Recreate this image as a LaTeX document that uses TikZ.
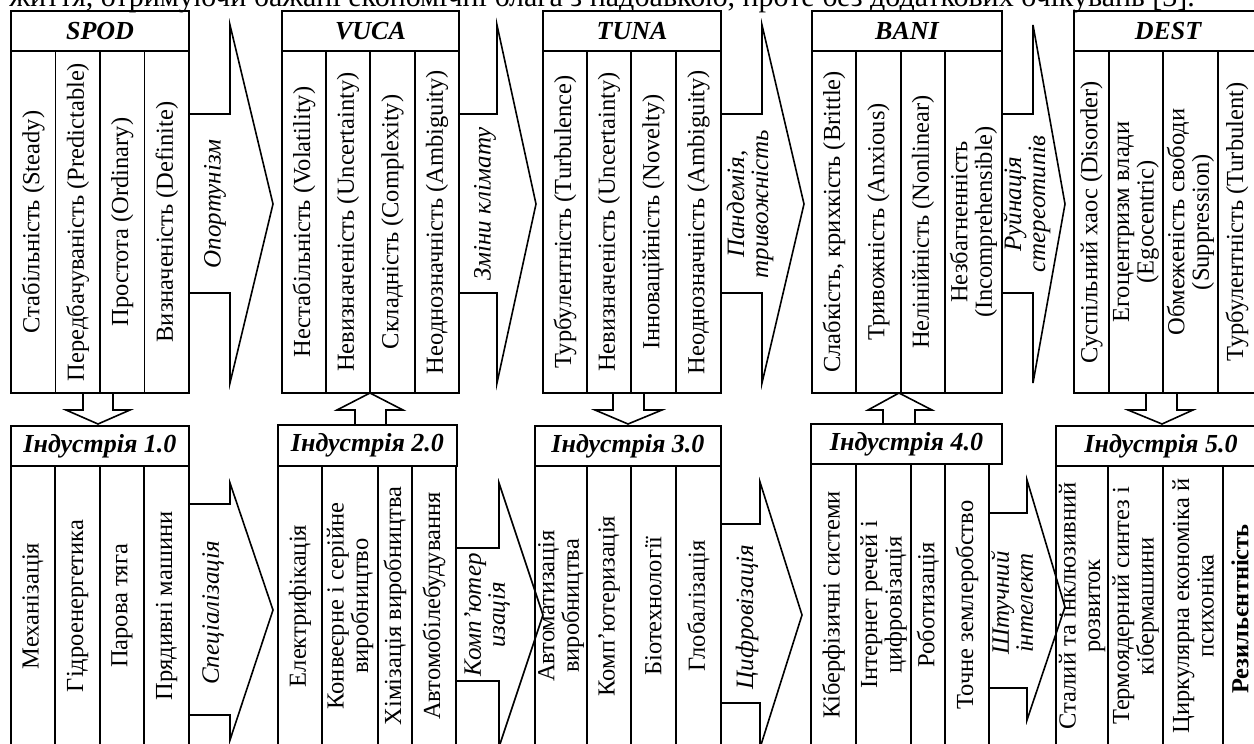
\documentclass[tikz,border=0pt]{standalone}
\usepackage{fontspec}
\setmainfont{Liberation Serif}
\newcommand{\cellbox}[6]{%
  \draw[frame] (#1,#3) rectangle (#2,#4);
  \node[coltxt] (#5) at ({(#1+#2)/2},{(#3+#4)/2}) {#6};}
\newcommand{\hdrbox}[6]{%
  \draw[frame] (#1,#3) rectangle (#2,#4);
  \node[hdr] (#5) at ({(#1+#2)/2},{(#3+#4)/2}) {#6};}
\begin{document}
\begin{tikzpicture}[x=1pt,y=-1pt,
  frame/.style={line width=1.6pt, line join=miter},
  coltxt/.style={rotate=90, align=center, font=\fontsize{24.5}{24.5}\selectfont, inner sep=0pt},
  arrtxt/.style={rotate=90, align=center, font=\fontsize{25}{24}\selectfont\itshape, inner sep=0pt},
  hdr/.style={font=\fontsize{26}{26}\selectfont\bfseries\itshape, inner sep=0pt},
  blockarrow/.style={line width=1.6pt, line join=miter}]
\useasboundingbox (0,0) rectangle (1254,744);

% cut-off sentence above the figure
\node[anchor=base east, font=\fontsize{30}{30}\selectfont, inner sep=0pt] (sentence) at (1195,6)
  {життя, отримуючи бажані економічні блага з надбавкою, проте без додаткових очікувань [3].};

% ---------- upper row ----------
\hdrbox{11}{189}{11}{51}{spod}{SPOD}
\cellbox{11}{55.5}{51}{393}{s1}{Стабільність (Steady)}
\cellbox{55.5}{100}{51}{393}{s2}{Передбачуваність (Predictable)}
\cellbox{100}{144.5}{51}{393}{s3}{Простота (Ordinary)}
\cellbox{144.5}{189}{51}{393}{s4}{Визначеність (Definite)}

\hdrbox{282}{459}{11}{51}{vuca}{VUCA}
\cellbox{282}{326}{51}{393}{v1}{Нестабільність (Volatility)}
\cellbox{326}{370}{51}{393}{v2}{Невизначеність (Uncertainty)}
\cellbox{370}{415}{51}{393}{v3}{Складність (Complexity)}
\cellbox{415}{459}{51}{393}{v4}{Неоднозначність (Ambiguity)}

\hdrbox{543}{721}{11}{51}{tuna}{TUNA}
\cellbox{543}{587}{51}{393}{t1}{Турбулентність (Turbulence)}
\cellbox{587}{631}{51}{393}{t2}{Невизначеність (Uncertainty)}
\cellbox{631}{676}{51}{393}{t3}{Інноваційність (Novelty)}
\cellbox{676}{721}{51}{393}{t4}{Неоднозначність (Ambiguity)}

\hdrbox{812}{1002}{11}{51}{bani}{BANI}
\cellbox{812}{856}{51}{393}{b1}{Слабкість, крихкість (Brittle)}
\cellbox{856}{901}{51}{393}{b2}{Тривожність (Anxious)}
\cellbox{901}{945}{51}{393}{b3}{Нелінійність (Nonlinear)}
\cellbox{945}{1002}{51}{393}{b4}{Незбагненність\\(Incomprehensible)}

\draw[frame] (1074,11) rectangle (1260,51);
\node[hdr] (dest) at (1168,31) {DEST};
\cellbox{1074}{1109}{51}{393}{d1}{Суспільний хаос (Disorder)}
\cellbox{1109}{1163}{51}{393}{d2}{Егоцентризм влади\\(Egocentric)}
\cellbox{1163}{1218}{51}{393}{d3}{Обмеженість свободи\\(Suppression)}
\draw[frame] (1218,51) rectangle (1260,393);
\node[coltxt] (d4) at (1237,222) {Турбулентність (Turbulent)};

% upper block arrows
\draw[blockarrow] (189,114) -- (230,114) -- (230,25) -- (273,204) -- (230,383) -- (230,293) -- (189,293);
\draw[blockarrow] (459,114) -- (497,114) -- (497,25) -- (536,204) -- (497,383) -- (497,293) -- (459,293);
\draw[blockarrow] (721,114) -- (762,114) -- (762,25) -- (804,204) -- (762,383) -- (762,293) -- (721,293);
\draw[blockarrow] (1002,114) -- (1033,114) -- (1033,25) -- (1065,204) -- (1033,383) -- (1033,293) -- (1002,293);
\node[arrtxt] (a1) at (215,204) {Опортунізм};
\node[arrtxt] (a2) at (485,204) {Зміни клімату};
\node[arrtxt] (a3) at (750,204) {Пандемія,\\тривожність};
\node[arrtxt] (a4) at (1027,204) {Руйнація\\стереотипів};

% ---------- lower row ----------
\hdrbox{11}{189}{426}{466}{ind1}{Індустрія 1.0}
\cellbox{11}{55}{466}{746}{i11}{Механізація}
\cellbox{55}{100}{466}{746}{i12}{Гідроенергетика}
\cellbox{100}{144}{466}{746}{i13}{Парова тяга}
\cellbox{144}{189}{466}{746}{i14}{Прядивні машини}

\hdrbox{278}{457}{425}{466}{ind2}{Індустрія 2.0}
\cellbox{278}{322}{466}{746}{i21}{Електрифікація}
\cellbox{322}{378}{466}{746}{i22}{Конвеєрне і серійне\\виробництво}
\cellbox{378}{412}{466}{746}{i23}{Хімізація виробництва}
\cellbox{412}{456}{466}{746}{i24}{Автомобілебудування}

\hdrbox{535}{721}{426}{466}{ind3}{Індустрія 3.0}
\cellbox{535}{587}{466}{746}{i31}{Автоматизація\\виробництва}
\cellbox{587}{631}{466}{746}{i32}{Комп’ютеризація}
\cellbox{631}{676}{466}{746}{i33}{Біотехнології}
\cellbox{676}{721}{466}{746}{i34}{Глобалізація}

\hdrbox{811}{1002}{424}{464}{ind4}{Індустрія 4.0}
\cellbox{811}{856}{464}{746}{i41}{Кіберфізичні системи}
\cellbox{856}{911}{464}{746}{i42}{Інтернет речей і\\цифровізація}
\cellbox{911}{945}{464}{746}{i43}{Роботизація}
\cellbox{945}{989}{464}{746}{i44}{Точне землеробство}

\draw[frame] (1056,426) rectangle (1260,466);
\node[hdr] (ind5) at (1161,446) {Індустрія 5.0};
\cellbox{1056}{1108}{466}{746}{i51}{Сталий та інклюзивний\\розвиток}
\cellbox{1108}{1163}{466}{746}{i52}{Термоядерний синтез і\\кібермашини}
\cellbox{1163}{1223}{466}{746}{i53}{Циркулярна економіка й\\психоніка}
\draw[frame] (1223,466) rectangle (1260,746);
\node[coltxt, font=\fontsize{24.5}{24.5}\selectfont\bfseries] (i54) at (1240,609) {Резильєнтність};

% lower block arrows
\draw[blockarrow] (189,504) -- (230,504) -- (230,483) -- (273,610) -- (230,740) -- (230,715) -- (189,715);
\draw[blockarrow] (456,548) -- (499,548) -- (499,483) -- (543,615) -- (499,747) -- (499,681) -- (456,681);
\draw[blockarrow] (721,524) -- (760,524) -- (760,482) -- (802,615) -- (760,748) -- (760,703) -- (721,703);
\draw[blockarrow] (989,513) -- (1027,513) -- (1027,480) -- (1065,607) -- (1027,720) -- (1027,688) -- (989,688);
\node[arrtxt] (l1) at (213,613) {Спеціалізація};
\node[arrtxt] (l2) at (487,615) {Комп’ютер\\изація};
\node[arrtxt] (l3) at (747,617) {Цифровізація};
\node[arrtxt] (l4) at (1012,603) {Штучний\\інтелект};

% vertical block arrows between rows
\draw[blockarrow] (83,393) -- (83,410) -- (66,410) -- (98,424) -- (130,410) -- (113,410) -- (113,393);
\draw[blockarrow] (355,425) -- (355,410) -- (337,410) -- (370,393) -- (403,410) -- (386,410) -- (386,425);
\draw[blockarrow] (613,393) -- (613,410) -- (595,410) -- (628,424) -- (662,410) -- (644,410) -- (644,393);
\draw[blockarrow] (883,424) -- (883,410) -- (868,410) -- (899,393) -- (932,410) -- (915,410) -- (915,424);
\draw[blockarrow] (1146,393) -- (1146,410) -- (1128,410) -- (1162,424) -- (1193,410) -- (1177,410) -- (1177,393);
\end{tikzpicture}
\end{document}
